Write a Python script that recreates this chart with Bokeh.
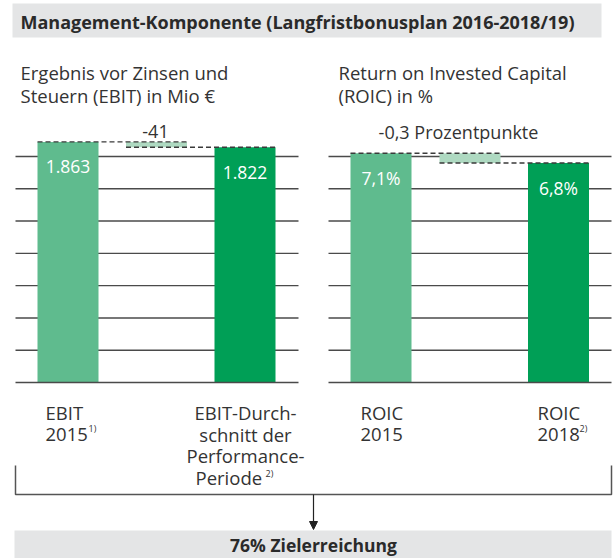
from bokeh.plotting import figure
from bokeh.models import Range1d, Arrow, NormalHead
from bokeh.core.properties import value
from bokeh.embed import file_html
from bokeh.resources import INLINE

# ---------------- data ----------------
title_text = "Management-Komponente (Langfristbonusplan 2016-2018/19)"
ebit_heading = ["Ergebnis vor Zinsen und", "Steuern (EBIT) in Mio €"]
roic_heading = ["Return on Invested Capital", "(ROIC) in %"]

ebit_values = [1863, 1822]
ebit_value_labels = ["1.863", "1.822"]
ebit_delta_label = "-41"
ebit_categories = [["EBIT", "2015"], ["EBIT-Durch-", "schnitt der", "Performance-", "Periode"]]
ebit_notes = ["1)", "2)"]
ebit_grid = [0, 250, 500, 750, 1000, 1250, 1500, 1750]

roic_values = [7.1, 6.8]
roic_value_labels = ["7,1%", "6,8%"]
roic_delta_label = "-0,3 Prozentpunkte"
roic_categories = [["ROIC", "2015"], ["ROIC", "2018"]]
roic_notes = ["", "2)"]
roic_grid = [0, 1, 2, 3, 4, 5, 6, 7]

result_text = "76% Zielerreichung"

# ---------------- layout / style ----------------
FONT = value("Open Sans")
TXT = "#333333"
LIGHT = "#5fbb8e"
DARK = "#009f56"
PALE = "#aed9c1"
GRID = "#4a4a4a"
BAND = "#e4e5e6"

W, H = 614, 558
BASE_PX, TOPGRID_PX = 382, 156
BAR_W = 61

p = figure(width=W, height=H, output_backend="svg", toolbar_location=None,
           x_range=Range1d(0, W), y_range=Range1d(H, 0),
           min_border=0, outline_line_color=None)
p.axis.visible = False
p.grid.visible = False
p.background_fill_color = "white"
p.border_fill_color = "white"

# scales for the two charts: value 0 at baseline, top grid value at TOPGRID_PX
def make_range(top_value):
    s = (BASE_PX - TOPGRID_PX) / top_value
    return Range1d((BASE_PX - H) / s, BASE_PX / s)

p.extra_y_ranges = {"ebit": make_range(ebit_grid[-1]), "roic": make_range(roic_grid[-1])}

# title band
p.quad(left=12, right=601, top=3, bottom=37, fill_color=BAND, line_color=None)
p.text(x=[20], y=[21], text=[title_text], text_font=FONT, text_font_style="bold",
       text_font_size="18px", text_color="#2a2a2a", text_baseline="middle")

charts = [
    dict(rng="ebit", heading=ebit_heading, vals=ebit_values, vlabels=ebit_value_labels,
         delta=ebit_delta_label, cats=ebit_categories, notes=ebit_notes, grid=ebit_grid,
         gx=(15, 298), centers=(67.5, 244.5), dcenter=156, hx=20, dlx=155,
         cat_pos=[[(45, "left"), (45, "left")],
                  [(245, "center"), (245, "center"), (245, "center"), (195, "left")]],
         note_pos=[(88, 428), (265, 473)]),
    dict(rng="roic", heading=roic_heading, vals=roic_values, vlabels=roic_value_labels,
         delta=roic_delta_label, cats=roic_categories, notes=roic_notes, grid=roic_grid,
         gx=(328, 611), centers=(380.5, 558), dcenter=469.5, hx=338, dlx=458,
         cat_pos=[[(360, "left"), (360, "left")], [(537, "left"), (537, "left")]],
         note_pos=[(0, 0), (579, 428)]),
]

for c in charts:
    r = c["rng"]
    # headings
    for i, line in enumerate(c["heading"]):
        p.text(x=[c["hx"]], y=[72 + 23 * i], text=[line], text_font=FONT,
               text_font_size="18.5px", text_color=TXT, text_baseline="alphabetic")
    # delta label
    p.text(x=[c["dlx"]], y=[131], text=[c["delta"]], text_font=FONT, text_font_size="18px",
           text_color=TXT, text_align="center", text_baseline="alphabetic")
    # grid lines (above the baseline)
    g = c["grid"][1:]
    p.segment(x0=[c["gx"][0]] * len(g), x1=[c["gx"][1]] * len(g), y0=g, y1=g,
              line_color=GRID, line_width=1.4, y_range_name=r)
    v0, v1 = c["vals"]
    x0, x1 = c["centers"]
    # bars
    p.vbar(x=[x0, x1], top=[v0, v1], bottom=0, width=BAR_W, fill_color=[LIGHT, DARK],
           line_color=None, y_range_name=r)
    # floating delta bar
    p.vbar(x=[c["dcenter"]], top=[v0], bottom=[v1], width=BAR_W, fill_color=PALE,
           line_color=None, y_range_name=r)
    # baseline
    p.segment(x0=[c["gx"][0]], x1=[c["gx"][1]], y0=[c["grid"][0]], y1=[c["grid"][0]],
              line_color=GRID, line_width=1.4, y_range_name=r)
    # dashed connectors
    p.segment(x0=[x0 - BAR_W / 2], x1=[c["dcenter"] + BAR_W / 2], y0=[v0], y1=[v0],
              line_color="#3a3a3a", line_width=1.4, line_dash="5 3", y_range_name=r)
    p.segment(x0=[c["dcenter"] - BAR_W / 2], x1=[x1 + BAR_W / 2], y0=[v1], y1=[v1],
              line_color="#3a3a3a", line_width=1.4, line_dash="5 3", y_range_name=r)
    # value labels in bars
    p.text(x=[x0, x1], y=[v0, v1], text=c["vlabels"], text_font=FONT, text_font_size="17.5px",
           text_color="white", text_align="center", text_baseline="alphabetic",
           y_offset=25, y_range_name=r)
    # category labels
    for k, lines in enumerate(c["cats"]):
        for i, line in enumerate(lines):
            lx, al = c["cat_pos"][k][i]
            p.text(x=[lx], y=[412 + 21.7 * i], text=[line], text_font=FONT,
                   text_font_size="18.5px", text_color=TXT, text_align=al,
                   text_baseline="alphabetic")
        note = c["notes"][k]
        if note:
            nx, ny = c["note_pos"][k]
            p.text(x=[nx], y=[ny], text=[note], text_font=FONT, text_font_size="9px",
                   text_color=TXT, text_baseline="alphabetic")

# bracket
p.line(x=[15, 15, 611, 611], y=[465, 494, 494, 465], line_color="#555555", line_width=1.5)
p.add_layout(Arrow(end=NormalHead(size=8, fill_color="#222222", line_color="#222222"),
                   x_start=313, y_start=494, x_end=313, y_end=529,
                   line_color="#222222", line_width=1.2))

# result band
p.quad(left=14, right=611, top=530, bottom=H, fill_color=BAND, line_color=None)
p.text(x=[313], y=[544], text=[result_text], text_font=FONT, text_font_style="bold",
       text_font_size="17.5px", text_color="#2a2a2a", text_align="center",
       text_baseline="middle")

open("out.html", "w").write(file_html(p, INLINE))
